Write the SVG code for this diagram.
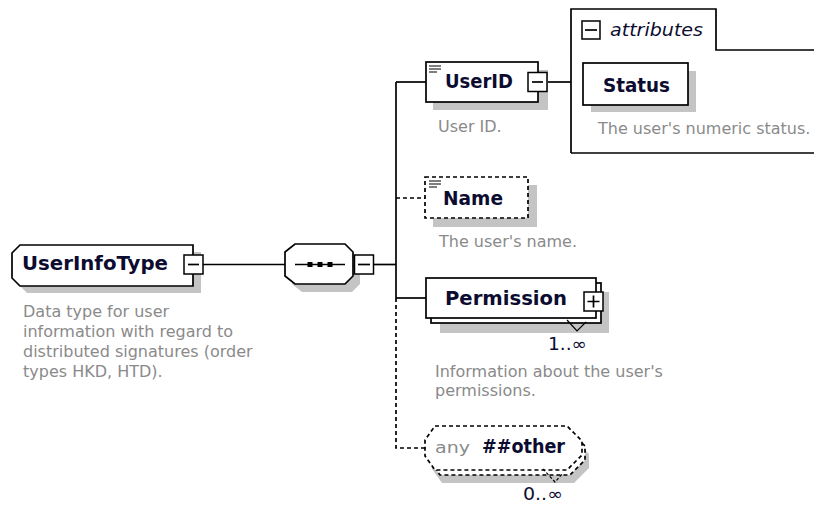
<svg xmlns="http://www.w3.org/2000/svg" width="814" height="507" viewBox="0 0 814 507">
<style>
.box{fill:#fff;stroke:#000;stroke-width:1.7}
.dbox{fill:#fff;stroke:#000;stroke-width:1.7;stroke-dasharray:4,3}
.sh{fill:#c4c4c4;stroke:none}
.ln{fill:none;stroke:#000;stroke-width:1.7}
.dln{fill:none;stroke:#000;stroke-width:1.7;stroke-dasharray:4,3}
.thin{fill:none;stroke:#000;stroke-width:1.2}
.lbl{font-family:"DejaVu Sans",Verdana,sans-serif;font-weight:bold;font-size:19px;fill:#0c0c30}
.desc{font-family:"DejaVu Sans",Verdana,sans-serif;font-size:16px;fill:#8a8a8a}
.mult{font-family:"DejaVu Sans",Verdana,sans-serif;font-size:17px;fill:#0c0c30}
.ital{font-family:"DejaVu Sans",Verdana,sans-serif;font-style:italic;font-size:17px;fill:#0c0c30}
.btn{fill:#fff;stroke:#000;stroke-width:1.5}
</style>

<g id="connectors">
<path class="ln" d="M203,264.5 H285"/>
<path class="ln" d="M374,264.5 H396"/>
<path class="ln" d="M396,82 V298"/>
<path class="ln" d="M396,82 H426"/>
<path class="ln" d="M396,298 H426"/>
<path class="dln" d="M396,198 H425"/>
<path class="dln" d="M396,298 V448 H425"/>
<path class="ln" d="M547,82 H571"/>
</g>

<g id="UserInfoType">
<path class="sh" d="M27,252 H201 V293 H27 L19,285 V260 Z"/>
<path class="box" d="M20,245 H193 V286 H20 L12,278 V253 Z"/>
<text class="lbl" x="22" y="270" textLength="146" lengthAdjust="spacingAndGlyphs">UserInfoType</text>
<rect class="btn" x="184" y="255" width="19" height="19"/>
<path class="ln" d="M188,264.5 H199"/>
<text class="desc" x="23" y="317">Data type for user</text>
<text class="desc" x="23" y="337">information with regard to</text>
<text class="desc" x="23" y="357">distributed signatures (order</text>
<text class="desc" x="23" y="377">types HKD, HTD).</text>
</g>

<g id="sequence">
<path class="sh" d="M302,252 H352 L360,260 V284 L352,292 H302 L292,284 V260 Z"/>
<path class="box" d="M295,244 H345 L353,252 V276 L345,284 H295 L285,276 V252 Z"/>
<path class="ln" d="M295,264.5 H345"/>
<rect x="307.5" y="262" width="5" height="5" fill="#000"/>
<rect x="317.5" y="262" width="5" height="5" fill="#000"/>
<rect x="327.5" y="262" width="5" height="5" fill="#000"/>
<rect class="btn" x="354.5" y="255" width="19" height="19"/>
<path class="ln" d="M358,264.5 H370"/>
</g>

<g id="UserID">
<rect class="sh" x="433" y="70" width="115" height="40"/>
<rect class="box" x="426" y="62" width="112" height="40"/>
<path class="thin" d="M429,66 H441 M429,69 H441 M429,72 H437"/>
<text class="lbl" x="445" y="88" textLength="68" lengthAdjust="spacingAndGlyphs">UserID</text>
<rect class="btn" x="528" y="72.5" width="19" height="19"/>
<path class="ln" d="M532,82 H543"/>
<text class="desc" x="438" y="132">User ID.</text>
</g>

<g id="attributes">
<path class="ln" d="M571,153 V9 H716 V50 H816"/>
<path class="ln" d="M571,153 H816"/>
<rect class="btn" x="582" y="21" width="18" height="18"/>
<path class="ln" d="M585,30 H597"/>
<text class="ital" x="610" y="36" textLength="93" lengthAdjust="spacingAndGlyphs">attributes</text>
</g>

<g id="Status">
<rect class="sh" x="591" y="71" width="105" height="41"/>
<rect class="box" x="583" y="63" width="105" height="42"/>
<text class="lbl" x="603" y="92" textLength="67" lengthAdjust="spacingAndGlyphs">Status</text>
<text class="desc" x="598" y="134">The user's numeric status.</text>
</g>

<g id="Name">
<rect class="sh" x="433" y="185" width="104" height="42"/>
<rect class="dbox" x="425" y="177" width="103" height="41"/>
<path class="thin" d="M429,181 H441 M429,184 H441 M429,187 H437"/>
<text class="lbl" x="443" y="205" textLength="60" lengthAdjust="spacingAndGlyphs">Name</text>
<text class="desc" x="439" y="247">The user's name.</text>
</g>

<g id="Permission">
<rect class="sh" x="440" y="292" width="169" height="41"/>
<rect class="box" x="431" y="283" width="170" height="40"/>
<rect class="box" x="426" y="278" width="170" height="40"/>
<text class="lbl" x="445" y="305" textLength="122" lengthAdjust="spacingAndGlyphs">Permission</text>
<rect class="btn" x="584" y="292" width="19" height="19"/>
<path class="ln" d="M587.5,301.5 H599.5 M593.5,295.5 V307.5"/>
<path class="thin" d="M567,320 L577,331 L586,322"/>
<text class="mult" x="548" y="350" textLength="39" lengthAdjust="spacingAndGlyphs">1..∞</text>
<text class="desc" x="435" y="377">Information about the user's</text>
<text class="desc" x="435" y="396">permissions.</text>
</g>

<g id="any">
<path class="sh" d="M442,439 H574 L589,454 V468 L574,483 H442 L432,469 V453 Z"/>
<path class="dbox" d="M440,431 H570 L585,446 V460 L570,475 H440 L430,461 V445 Z"/>
<path class="dbox" d="M435,426 H567 L582,441 V455 L567,470 H435 L425,456 V440 Z"/>
<text class="desc" x="435" y="453" font-size="18" textLength="35" lengthAdjust="spacingAndGlyphs">any</text>
<text class="lbl" x="482" y="453" textLength="83" lengthAdjust="spacingAndGlyphs">##other</text>
<path class="thin" d="M543,469 L555,482 L563,473" stroke-dasharray="3,2"/>
<text class="mult" x="523" y="500" textLength="40" lengthAdjust="spacingAndGlyphs">0..∞</text>
</g>
</svg>
